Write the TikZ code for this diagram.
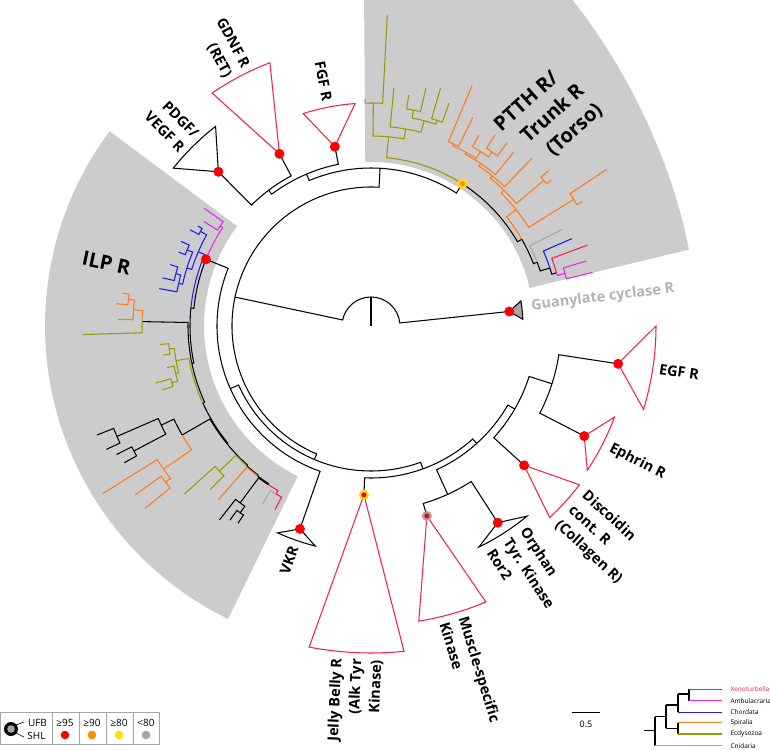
\documentclass[tikz,border=0pt]{standalone}
\usepackage{fontspec}
\setmainfont{Open Sans}
\usepackage{tikz}
\definecolor{cred}{HTML}{F2224A}
\definecolor{cdot}{HTML}{FF0000}
\definecolor{corg}{HTML}{FF7A1C}
\definecolor{colv}{HTML}{999900}
\definecolor{cblu}{HTML}{1A1AF5}
\definecolor{cmag}{HTML}{F020F0}
\definecolor{cgry}{HTML}{A6A6A6}
\definecolor{cshd}{HTML}{CCCCCC}
\definecolor{cyel}{HTML}{FFE000}
\definecolor{cdorg}{HTML}{FF8C00}
\definecolor{clab}{HTML}{B3B3B3}

\begin{document}
\begin{tikzpicture}[x=1pt,y=1pt,line width=1.05pt,
  lbl/.style={font=\fontsize{14.5}{20}\selectfont\bfseries,inner sep=0pt},
  big/.style={font=\fontsize{20}{26.5}\selectfont\bfseries,inner sep=0pt},
  small/.style={font=\fontsize{10}{12}\selectfont,inner sep=0pt},
  tiny/.style={font=\fontsize{6.5}{8}\selectfont,inner sep=0pt,anchor=west}]
  \useasboundingbox (-371,-423) rectangle (399,326);
  \clip (-371,-423) rectangle (399,326);

  \fill[cshd] (143.3:167) -- (143.3:326) arc[start angle=143.3,end angle=244,radius=326] -- (244:167) arc[start angle=244,end angle=143.3,radius=167] -- cycle;
  \fill[cshd] (13.5:162) -- (13.5:327) .. controls (300,170) and (250,270) .. (190,340) -- (-7,340) -- (92:164) arc[start angle=92,end angle=13.5,radius=163] -- cycle;

  \draw (0,0) -- (90:29);
  \foreach \pa/\pr/\ca/\cr in {90/29/6/139, 90/29/168/139, 168/139/86.7/158, 168/139/247/145,
      86.7/158/57.3/169, 86.7/158/113/165, 113/165/101.4/183, 113/165/127/170,
      127/170/118/195, 127/170/134.7/217, 247/145/204/154, 247/145/290/152,
      204/154/158/178, 204/154/250.7/215, 290/152/267.6/169, 290/152/312/158,
      312/158/294.5/185, 312/158/330/166, 294.5/185/286.4/198, 294.5/185/302.8/234,
      330/166/317.7/207, 330/166/342.3/190, 342.3/190/332.7/240, 342.3/190/351.3/250}
    \draw (\pa:\pr) arc[start angle=\pa,end angle=\ca,radius=\pr] -- (\ca:\cr);

  \foreach \pa/\pr/\ca/\cr/\c in {57.3/169/84.7/190/colv, 57.3/169/29.9/174/black,
      84.7/190/89.4/223/colv, 84.7/190/80/200/colv, 89.4/223/87/311/colv, 89.4/223/91.5/227/colv,
      80/200/84.5/239/colv, 80/200/75.5/212/colv, 75.5/212/78.85/220/colv, 75.5/212/72.2/216/colv,
      78.85/220/80.7/234/colv, 78.85/220/77/244/colv, 72.2/216/73.7/248/colv, 72.2/216/70.7/236/colv,
      29.9/174/38.8/186/corg, 29.9/174/21/178/black,
      38.8/186/45.6/190/corg, 38.8/186/32/239/corg, 45.6/190/51.1/193/corg, 45.6/190/40.1/226/corg,
      51.1/193/56/196/corg, 51.1/193/46.2/233/corg, 56/196/61.3/198/corg, 56/196/50.6/225/corg,
      61.3/198/65.6/200/corg, 61.3/198/57.9/206/corg, 65.6/200/67.2/261/corg, 65.6/200/64/232/corg,
      57.9/206/60.5/219/corg, 57.9/206/55.2/212/corg, 55.2/212/57/228/corg, 55.2/212/53.4/228/corg,
      40.1/226/41.2/236/corg, 40.1/226/39/232/corg, 32/239/33.6/283/corg, 32/239/30.5/245/corg,
      21/178/26.8/214/cgry, 21/178/18/188/black, 18/188/23.5/219/cblu, 18/188/16/193/black,
      16/193/20.5/231/cred, 16/193/15.2/201/cmag, 15.2/201/16.8/225/cmag, 15.2/201/13.6/228/cmag}
    \draw[color=\c] (\pa:\pr) arc[start angle=\pa,end angle=\ca,radius=\pr] -- (\ca:\cr);

  \foreach \pa/\pr/\ca/\cr/\c in {158/178/146.4/181/cmag, 158/178/174.3/181/black,
      146.4/181/144.8/204/cmag, 146.4/181/148/197/cmag,
      174.3/181/156.75/188/cblu, 174.3/181/191.8/183/black,
      156.75/188/151/195/cblu, 156.75/188/162.5/193/cblu, 151/195/150/200/cblu, 151/195/152/205/cblu,
      162.5/193/157.5/199/cblu, 162.5/193/167.5/197/cblu, 157.5/199/156/208/cblu, 157.5/199/159/206/cblu,
      167.5/197/165/202/cblu, 167.5/197/170/215/cblu, 165/202/163/210/cblu, 165/202/167/214/cblu,
      191.8/183/178.9/229/black, 191.8/183/204.6/185/black,
      178.9/229/176.1/238/corg, 178.9/229/181.7/288/colv, 176.1/238/173.75/244/corg, 176.1/238/178.5/253/corg,
      173.75/244/172.5/250/corg, 173.75/244/175/256/corg,
      204.6/185/190.1/198/colv, 204.6/185/219.2/186/black,
      190.1/198/186.5/203/colv, 190.1/198/193.7/201/colv, 186.5/203/185/212/colv, 186.5/203/188/210/colv,
      193.7/201/191.5/208/colv, 193.7/201/195.9/207/colv, 195.9/207/194.8/223/colv, 195.9/207/197/218/colv,
      219.2/186/210/218/black, 219.2/186/228.3/187/black,
      210/218/205.3/232/black, 210/218/214.6/252/corg,
      205.3/232/203.5/277/black, 205.3/232/207.8/268/black, 203.5/277/201.7/295/black, 203.5/277/205/292/black,
      207.8/268/206.8/285/black, 207.8/268/209/282/black,
      214.6/252/212/316/corg, 214.6/252/217.25/258/corg, 217.25/258/215.6/290/corg, 217.25/258/218.9/290/corg,
      228.3/187/223.75/210/colv, 228.3/187/232.85/188/black,
      223.75/210/222/251/colv, 223.75/210/225.5/230/colv,
      232.85/188/228.7/232/corg, 232.85/188/237/189/black,
      237/189/233.5/220/black, 237/189/240.5/193/cred,
      233.5/220/232/246/black, 233.5/220/235/228/black, 235/228/234/240/black, 235/228/236/238/black,
      240.5/193/238.6/209/cgry, 240.5/193/242.4/207/cred}
    \draw[color=\c] (\pa:\pr) arc[start angle=\pa,end angle=\ca,radius=\pr] -- (\ca:\cr);

  \filldraw[fill=cgry] (6:139) -- (2.5:152) arc[start angle=2.5,end angle=9.5,radius=152] -- cycle;
  \foreach \ap/\rp/\a/\b/\r/\c in {351.3/250/343/360/285/cred, 332.7/240/326.3/339.5/260/cred,
      317.7/207/313/322.7/262/cred, 302.8/234/296/309.4/246/black, 286.4/198/279.2/292.6/299/cred,
      267.6/169/259.1/275.8/327/cred, 250.7/215/245.7/255.8/227/black, 134.7/217/127.9/141.4/253/black,
      118/195/111/124.3/282/cred, 101.4/183/94.1/107.7/223/cred}
    \draw[color=\c] (\ap:\rp) -- (\a:\r) arc[start angle=\a,end angle=\b,radius=\r] -- cycle;

  \foreach \a/\r in {6/139, 134.7/217, 118/195, 101.4/183, 158/178, 250.7/215, 302.8/234,
      317.7/207, 332.7/240, 351.3/250}
    \fill[cdot] (\a:\r) circle (5);
  \fill[cyel] (57.3:169) circle (5);
  \fill[cdorg] (57.3:169) circle (2.6);
  \fill[cyel] (267.6:169) circle (5);
  \fill[cdot] (267.6:169) circle (2.6);
  \fill[cgry] (286.4:198) circle (5);
  \fill[cdot] (286.4:198) circle (2.6);

  \node[big,rotate=42,anchor=west,align=left] (ptth) at (51:229) {PTTH R/\\\hspace*{12pt}Trunk R\\\hspace*{22pt}(Torso)};
  \node[big,rotate=-12] (ilp) at (166.6:272) {ILP R};
  \node[lbl,text=clab,rotate=7,anchor=west] (gcr) at (7:161) {Guanylate cyclase R};
  \node[lbl,rotate=-8.5,anchor=west] (egf) at (351.5:291) {EGF R};
  \node[lbl,rotate=-27,anchor=west] (eph) at (333:268) {Ephrin R};
  \node[lbl,rotate=-42.5,anchor=west,align=left] (ddr) at (317.5:270) {Discoidin\\cont. R\\(Collagen R)};
  \node[lbl,rotate=-57,anchor=west,align=left] (ror) at (302.6:253) {Orphan\\Tyr. Kinase\\Ror2};
  \node[lbl,rotate=-73,anchor=west,align=left] (musk) at (285.8:305) {Muscle-specific\\Kinase};
  \node[lbl,rotate=87.6,anchor=east,align=right] (jb) at (267.6:333) {Jelly Belly R\\(Alk Tyr\\Kinase)};
  \node[lbl,rotate=70.7,anchor=east] (vkr) at (250.7:233) {VKR};
  \node[lbl,rotate=-45.3,anchor=east,align=right] (pdgf) at (134.7:258) {PDGF/\\VEGF R};
  \node[lbl,rotate=-62,anchor=east,align=right] (gdnf) at (117.9:287) {GDNF R\\(RET)};
  \node[lbl,rotate=-79,anchor=east] (fgf) at (101:229) {FGF R};

  \draw[cgry,line width=0.8pt] (-370.3,-386.7) rectangle (-212,-418);
  \foreach \x in {-319,-292,-265,-238}
    \draw[cgry,line width=0.8pt] (\x,-386.7) -- (\x,-418);
  \fill (-360,-403) circle (7);
  \fill[cgry] (-360,-403) circle (3.8);
  \draw[line width=0.6pt] (-355,-399) -- (-347,-396);
  \draw[line width=0.6pt] (-355,-407) -- (-347,-411);
  \node[small] (ufb) at (-333.5,-396.5) {UFB};
  \node[small] (shl) at (-334.5,-410) {SHL};
  \foreach \x/\t/\c in {-306/≥95/cdot, -279/≥90/cdorg, -252/≥80/cyel, -225/<80/cgry} {
    \node[small] at (\x,-397) {\t};
    \fill[color=\c] (\x,-409) circle (4.3);
  }

  \draw[line width=0.8pt] (201,-386) -- (229,-386);
  \node[small,font=\fontsize{9}{11}\selectfont] (scl) at (215,-398) {0.5};

  \begin{scope}[line width=1.3pt]
    \draw (273,-404.7) -- (284,-404.7);
    \draw (284,-390.7) -- (284,-419.7);
    \draw[cgry] (284,-419.7) -- (351,-419.7);
    \draw (284,-390.7) -- (295,-390.7) (295,-379) -- (295,-402.3);
    \draw (295,-402.3) -- (307,-402.3) (307,-396.7) -- (307,-408);
    \draw[corg] (307,-396.7) -- (351,-396.7);
    \draw[colv] (307,-408) -- (351,-408);
    \draw (295,-379) -- (307,-379) (307,-368) -- (307,-386.3);
    \draw[cblu] (307,-386.3) -- (351,-386.3);
    \draw (307,-368) -- (318,-368) (318,-363.3) -- (318,-374.7);
    \draw[cred] (318,-363.3) -- (351,-363.3);
    \draw[cmag] (318,-374.7) -- (351,-374.7);
  \end{scope}
  \node[tiny,text=cred] (xen) at (359,-363.3) {Xenoturbella};
  \node[tiny] (amb) at (359,-374.7) {Ambulacraria};
  \node[tiny] (cho) at (359,-386.3) {Chordata};
  \node[tiny] (spi) at (359,-396.7) {Spiralia};
  \node[tiny] (ecd) at (359,-408) {Ecdysozoa};
  \node[tiny] (cni) at (359,-419.7) {Cnidaria};
\end{tikzpicture}
\end{document}
